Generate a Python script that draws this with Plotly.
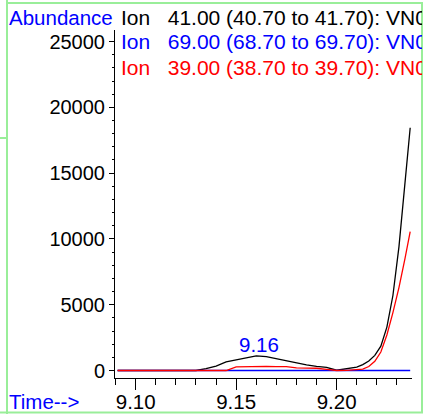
import plotly.graph_objects as go

# Retention time (min) and abundances
time = [9.091, 9.100, 9.110, 9.120, 9.130, 9.135, 9.140, 9.145, 9.150, 9.155,
        9.160, 9.165, 9.170, 9.175, 9.180, 9.185, 9.190, 9.195, 9.200, 9.205,
        9.210, 9.213, 9.216, 9.219, 9.222, 9.225, 9.228, 9.231, 9.234, 9.2366]
ion41 = [0, 0, 0, 0, 0, 150, 330, 650, 820, 980,
         1110, 1050, 900, 700, 560, 430, 310, 230, 20, 120,
         260, 450, 720, 1150, 1850, 3300, 5700, 9400, 14200, 18450]
ion69 = [0] * len(time)
ion39 = [0, 0, 0, 0, 0, 0, 0, 0, 280, 300,
         310, 310, 300, 290, 200, 180, 170, 80, 0, 10,
         40, 100, 300, 700, 1400, 2700, 4400, 6300, 8500, 10550]

legend_texts = ["Ion&nbsp;&nbsp; 41.00 (40.70 to 41.70): VN0113.D\\data.ms",
                "Ion&nbsp;&nbsp; 69.00 (68.70 to 69.70): VN0113.D\\data.ms",
                "Ion&nbsp;&nbsp; 39.00 (38.70 to 39.70): VN0113.D\\data.ms"]
legend_colors = ["black", "#0000ff", "#ff0000"]
peak_label = "9.16"

W, H = 428, 414
L, R, T, B = 115, 16, 30, 36
pw, ph = W - L - R, H - T - B


def px(x):
    return (x - L) / pw


def py(y):
    return (H - B - y) / ph


font = "Liberation Sans, Arial, sans-serif"

fig = go.Figure()
fig.add_trace(go.Scatter(x=time, y=ion41, mode='lines',
                         line=dict(color='black', width=1.3)))
fig.add_trace(go.Scatter(x=time, y=ion69, mode='lines',
                         line=dict(color='#0000ff', width=1.3)))
fig.add_trace(go.Scatter(x=time, y=ion39, mode='lines',
                         line=dict(color='#ff0000', width=1.3)))

annotations = [
    dict(text="Abundance", x=px(7), y=py(17), xanchor='left', yanchor='middle',
         font=dict(color='#0000ff', size=20.5)),
    dict(text="Time-->", x=px(7), y=py(401), xanchor='left', yanchor='middle',
         font=dict(color='#0000ff', size=20.5)),
    dict(text=peak_label, x=9.1615, y=1940, xref='x', yref='y',
         xanchor='center', yanchor='middle', font=dict(color='#0000ff', size=20.5)),
]
for i, (txt, col) in enumerate(zip(legend_texts, legend_colors)):
    annotations.append(dict(text=txt, x=px(119), y=py(17 + 25 * i),
                            xanchor='left', yanchor='middle', align='left',
                            width=301, font=dict(color=col, size=21)))
for a in annotations:
    a.setdefault('xref', 'paper')
    a.setdefault('yref', 'paper')
    a['showarrow'] = False
    a['font'].update(family=font)

# light green frame around the window
frame = '#99ee99'
shapes = [
    dict(x0=px(7), x1=px(7), y0=py(0), y1=py(414)),
    dict(x0=px(7), x1=px(423), y0=py(3), y1=py(3)),
    dict(x0=px(422), x1=px(422), y0=py(3), y1=py(413)),
    dict(x0=px(0), x1=px(423), y0=py(412.5), y1=py(412.5)),
    dict(x0=px(0), x1=px(7), y0=py(138), y1=py(138)),
]
for s in shapes:
    s.update(type='line', xref='paper', yref='paper',
             line=dict(color=frame, width=2))

fig.update_layout(
    width=W, height=H,
    margin=dict(l=L, r=R, t=T, b=B),
    paper_bgcolor='white', plot_bgcolor='white',
    showlegend=False,
    font=dict(family=font, size=20, color='black'),
    annotations=annotations,
    shapes=shapes,
)
fig.update_xaxes(range=[9.0897, 9.2375], tickvals=[9.10, 9.15, 9.20],
                 ticktext=["9.10", "9.15", "9.20"], automargin=False,
                 tickfont=dict(size=20.5), ticklabelstandoff=-6,
                 showline=True, linecolor='black', linewidth=1,
                 ticks='outside', ticklen=11, tickcolor='black', tickwidth=1,
                 minor=dict(dtick=0.01, tick0=9.10, ticks='outside', ticklen=6,
                            tickcolor='black'),
                 showgrid=False, zeroline=False)
fig.update_yaxes(range=[-570, 25880], tickvals=[0, 5000, 10000, 15000, 20000, 25000],
                 tickformat='d', automargin=False,
                 showline=True, linecolor='black', linewidth=1,
                 ticks='outside', ticklen=5, tickcolor='black', tickwidth=1,
                 minor=dict(dtick=1000, ticks='outside', ticklen=2,
                            tickcolor='black'),
                 showgrid=False, zeroline=False)

# drop the default page margin so the 428x414 figure fills the window exactly
fig.write_html("out.html", config={'displayModeBar': False},
               post_script="document.body.style.margin='0';")
